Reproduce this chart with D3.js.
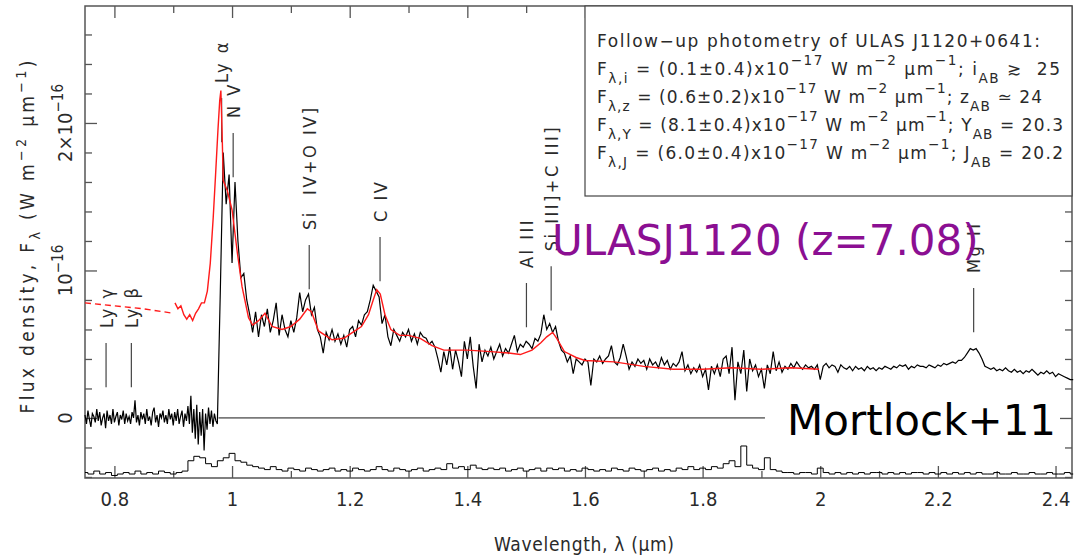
<!DOCTYPE html>
<html>
<head>
<meta charset="utf-8">
<script src="https://cdn.jsdelivr.net/npm/d3@7"></script>
<style>
  body { margin: 0; background: #fff; }
  text { font-family: "DejaVu Sans Condensed", "DejaVu Sans", sans-serif; fill: #2a2a2a; white-space: pre; }
</style>
</head>
<body>
<div id="chart"></div>
<script>
// Flux values are in units of 1e-16 W m^-2 um^-1, wavelengths in um
var width = 1074;
var height = 556;

// Axis ticks
var xTickValues = [0.8, 1, 1.2, 1.4, 1.6, 1.8, 2, 2.2, 2.4];
var xMinorTicks = [0.9, 1.1, 1.3, 1.5, 1.7, 1.9, 2.1, 2.3];
var yTickValues = [0, 1, 2];
var yTickLabels = [["0", ""], ["10", "−16"], ["2×10", "−16"]];
var yMinorTicks = [-0.4, -0.2, 0.2, 0.4, 0.6, 0.8, 1.2, 1.4, 1.6, 1.8, 2.2, 2.4, 2.6];

// Observed spectrum: blue part (below Ly alpha) on a finer grid
var blueStart = 0.75;
var blueStep = 0.0025;
var fluxBlue = [ // 0.7500 - 0.9750
  0.02, -0.04, 0.05, -0.01, -0.06, 0.03, 0.01, -0.03, 0.06, -0.02,
  0.04, -0.05, 0.00, 0.03, -0.07, 0.05, -0.02, 0.02, -0.04, 0.06,
  -0.03, 0.01, 0.04, -0.05, 0.02, -0.01, 0.05, -0.04, 0.03, -0.02,
  0.01, -0.04, 0.04, 0.00, 0.12, -0.03, 0.02, -0.05, 0.04, -0.01,
  0.03, -0.04, 0.06, -0.02, 0.01, -0.05, 0.04, 0.07, -0.03, 0.02,
  -0.06, 0.03, 0.00, 0.05, -0.03, 0.02, -0.04, 0.06, -0.01, 0.03,
  -0.05, 0.04, -0.02, 0.06, -0.04, 0.01, 0.05, -0.06, 0.03, -0.02,
  0.08, -0.04, 0.15, -0.10, 0.06, -0.14, 0.09, -0.18, 0.04, -0.12,
  0.06, -0.22, 0.03, -0.08, 0.07, -0.04, 0.05, -0.06, 0.03, -0.02,
  -0.04];

// Observed spectrum: red part
var specStart = 0.98;
var specStep = 0.005;
var fluxLya = [ // 0.980 - 1.195
  0.85, 1.80, 1.45, 1.65, 1.05, 1.60, 1.20, 0.95, 0.98, 0.80,
  0.70, 0.58, 0.72, 0.55, 0.70, 0.62, 0.74, 0.58, 0.66, 0.78,
  0.56, 0.70, 0.60, 0.55, 0.66, 0.58, 0.68, 0.85, 0.72, 0.80,
  0.84, 0.70, 0.75, 0.60, 0.55, 0.44, 0.58, 0.53, 0.60, 0.52,
  0.57, 0.50, 0.56, 0.48];
var fluxMid = [ // 1.200 - 1.595
  0.60, 0.62, 0.55, 0.66, 0.63, 0.70, 0.72, 0.80, 0.90, 0.86,
  0.82, 0.64, 0.70, 0.55, 0.49, 0.60, 0.56, 0.52, 0.58, 0.55,
  0.60, 0.52, 0.57, 0.50, 0.58, 0.55, 0.54, 0.50, 0.52, 0.48,
  0.40, 0.31, 0.45, 0.36, 0.48, 0.33, 0.46, 0.38, 0.28, 0.52,
  0.40, 0.55, 0.35, 0.20, 0.50, 0.38, 0.46, 0.42, 0.48, 0.40,
  0.45, 0.50, 0.42, 0.47, 0.44, 0.50, 0.56, 0.45, 0.50, 0.48,
  0.52, 0.50, 0.47, 0.54, 0.52, 0.57, 0.70, 0.60, 0.64, 0.58,
  0.62, 0.52, 0.46, 0.44, 0.38, 0.42, 0.30, 0.40, 0.38, 0.36];
var fluxRed = [ // 1.600 - 1.995
  0.40, 0.38, 0.22, 0.40, 0.38, 0.42, 0.37, 0.40, 0.42, 0.49,
  0.38, 0.36, 0.41, 0.50, 0.42, 0.33, 0.38, 0.35, 0.40, 0.37,
  0.39, 0.33, 0.40, 0.36, 0.38, 0.34, 0.41, 0.36, 0.39, 0.33,
  0.37, 0.35, 0.38, 0.45, 0.32, 0.36, 0.30, 0.34, 0.31, 0.36,
  0.28, 0.33, 0.19, 0.35, 0.30, 0.36, 0.28, 0.40, 0.42, 0.30,
  0.48, 0.12, 0.38, 0.30, 0.46, 0.18, 0.40, 0.32, 0.36, 0.28,
  0.33, 0.20, 0.36, 0.30, 0.45, 0.32, 0.38, 0.31, 0.35, 0.33,
  0.37, 0.34, 0.38, 0.35, 0.33, 0.36, 0.34, 0.35, 0.33, 0.36];
var fluxK = [ // 2.000 - 2.430
  0.26, 0.35, 0.37, 0.34, 0.36, 0.35, 0.31, 0.36, 0.34, 0.33,
  0.35, 0.32, 0.35, 0.33, 0.34, 0.32, 0.35, 0.33, 0.34, 0.32,
  0.34, 0.33, 0.35, 0.34, 0.33, 0.35, 0.34, 0.36, 0.35, 0.36,
  0.33, 0.35, 0.34, 0.36, 0.35, 0.35, 0.34, 0.36, 0.35, 0.34,
  0.36, 0.35, 0.37, 0.36, 0.37, 0.38, 0.37, 0.39, 0.39, 0.41,
  0.44, 0.47, 0.46, 0.47, 0.44, 0.40, 0.35, 0.34, 0.33, 0.34,
  0.32, 0.33, 0.32, 0.34, 0.32, 0.31, 0.33, 0.31, 0.32, 0.30,
  0.32, 0.31, 0.33, 0.31, 0.29, 0.31, 0.30, 0.32, 0.30, 0.31,
  0.28, 0.30, 0.29, 0.28, 0.27, 0.26, 0.26];

// Error spectrum, drawn with an offset below zero
var errStart = 0.75;
var errStep = 0.01;
var errOffset = -0.39;
var errFlux = [
  0.02, 0.01, 0.03, 0.01, 0.02, 0.00, 0.01, 0.02, 0.01, 0.03,
  0.01, 0.02, 0.01, 0.03, 0.02, 0.01, 0.02, 0.03, 0.10, 0.13,
  0.12, 0.08, 0.06, 0.10, 0.12, 0.15, 0.10, 0.09, 0.07, 0.06,
  0.05, 0.04, 0.06, 0.04, 0.03, 0.05, 0.04, 0.03, 0.05, 0.04,
  0.03, 0.04, 0.05, 0.03, 0.04, 0.03, 0.05, 0.04, 0.03, 0.04,
  0.06, 0.04, 0.03, 0.05, 0.04, 0.03, 0.04, 0.05, 0.03, 0.04,
  0.05, 0.04, 0.08, 0.05, 0.06, 0.04, 0.07, 0.05, 0.04, 0.05,
  0.04, 0.05, 0.03, 0.04, 0.05, 0.03, 0.04, 0.05, 0.03, 0.05,
  0.04, 0.05, 0.03, 0.04, 0.03, 0.05, 0.04, 0.03, 0.04, 0.03,
  0.05, 0.04, 0.03, 0.05, 0.04, 0.03, 0.04, 0.05, 0.03, 0.04,
  0.03, 0.05, 0.04, 0.06, 0.04, 0.05, 0.04, 0.06, 0.05, 0.08,
  0.10, 0.06, 0.20, 0.07, 0.05, 0.04, 0.12, 0.04, 0.03, 0.02,
  0.02, 0.01, 0.02, 0.02, 0.01, 0.05, 0.02, 0.01, 0.02, 0.01,
  0.02, 0.01, 0.02, 0.01, 0.02, 0.02, 0.01, 0.02, 0.01, 0.02,
  0.01, 0.02, 0.02, 0.01, 0.02, 0.01, 0.02, 0.01, 0.02, 0.01,
  0.02, 0.01, 0.02, 0.01, 0.01, 0.02, 0.01, 0.01, 0.02, 0.01,
  0.01, 0.02, 0.01, 0.01, 0.02, 0.01, 0.01, 0.02, 0.01];

// Composite quasar model (red)
var modelDashWave = [0.75, 0.80, 0.85, 0.90];
var modelDashFlux = [0.78, 0.76, 0.74, 0.71];
var modelWave = [
  0.903, 0.908, 0.913, 0.918, 0.923, 0.928, 0.933, 0.938, 0.943, 0.948,
  0.953, 0.958, 0.963, 0.968, 0.972, 0.976, 0.979, 0.981, 0.983, 0.985,
  0.992, 1.000, 1.009, 1.017, 1.028, 1.035, 1.045, 1.056, 1.068, 1.085,
  1.100, 1.115, 1.128, 1.135, 1.147, 1.170, 1.190, 1.205, 1.220, 1.232,
  1.240, 1.246, 1.252, 1.260, 1.270, 1.285, 1.300, 1.320, 1.340, 1.360,
  1.400, 1.440, 1.470, 1.490, 1.510, 1.525, 1.535, 1.545, 1.552, 1.565,
  1.585, 1.600, 1.650, 1.700, 1.750, 1.800, 1.850, 1.900, 1.950, 1.998];
var modelFlux = [
  0.78, 0.74, 0.76, 0.70, 0.67, 0.70, 0.66, 0.71, 0.74, 0.78,
  0.78, 0.86, 1.05, 1.36, 1.65, 1.95, 2.15, 2.22, 1.95, 1.61,
  1.54, 1.41, 1.12, 0.89, 0.68, 0.63, 0.66, 0.71, 0.62, 0.60,
  0.62, 0.67, 0.74, 0.72, 0.59, 0.53, 0.54, 0.58, 0.62, 0.70,
  0.80, 0.87, 0.84, 0.70, 0.60, 0.56, 0.56, 0.54, 0.49, 0.46,
  0.46, 0.45, 0.44, 0.43, 0.46, 0.51, 0.55, 0.58, 0.54, 0.45,
  0.41, 0.39, 0.38, 0.35, 0.33, 0.33, 0.34, 0.33, 0.34, 0.33];

// Zero level shown over the observed range
var zeroLineRange = [0.977, 1.906];

// Emission line identifications (observed wavelength)
var lineNames = ["Ly γ", "Ly β", "Ly α", "N V", "Si  IV+O IV]", "C IV", "Al III", "Si III]+C III]", "Mg II"];
var lineWaves = [0.7858, 0.8288, 0.9823, 1.0019, 1.1312, 1.2516, 1.5005, 1.5425, 2.2608];

// Photometry box text
var legendLines = [
  [["Follow−up photometry of ULAS J1120+0641:", ""]],
  [["F", ""], ["λ,i", "sub"], [" = (0.1±0.4)x10", ""], ["−17", "sup"], [" W m", ""], ["−2", "sup"], [" μm", ""], ["−1", "sup"], ["; i", ""], ["AB", "sub"], [" ≳  25", ""]],
  [["F", ""], ["λ,z", "sub"], [" = (0.6±0.2)x10", ""], ["−17", "sup"], [" W m", ""], ["−2", "sup"], [" μm", ""], ["−1", "sup"], ["; z", ""], ["AB", "sub"], [" ≃ 24", ""]],
  [["F", ""], ["λ,Y", "sub"], [" = (8.1±0.4)x10", ""], ["−17", "sup"], [" W m", ""], ["−2", "sup"], [" μm", ""], ["−1", "sup"], ["; Y", ""], ["AB", "sub"], [" = 20.3", ""]],
  [["F", ""], ["λ,J", "sub"], [" = (6.0±0.4)x10", ""], ["−17", "sup"], [" W m", ""], ["−2", "sup"], [" μm", ""], ["−1", "sup"], ["; J", ""], ["AB", "sub"], [" = 20.2", ""]]
];
var yLabelParts = [["Flux density, F", ""], ["λ", "sub"], [" (W m", ""], ["−2", "sup"], [" μm", ""], ["−1", "sup"], [")", ""]];
var xLabelText = "Wavelength, λ (μm)";
var objectLabel = "ULASJ1120 (z=7.08)";
var refLabel = "Mortlock+11";

// ---- layout (not data) ----
var markTop = [0.508, 0.508, 2.17, 1.932, 1.173, 1.227, 0.915, 1.029, 0.881]; // top of each id tick
var legendWidths = [443, 463, 445, 466, 466];

var x = d3.scaleLinear().domain([0.75, 2.428]).range([85, 1072]);
var y = d3.scaleLinear().domain([-0.407, 2.793]).range([478, 6]);

var svg = d3.select("#chart")
  .append("svg")
  .attr("width", width)
  .attr("height", height)
  .style("background", "#fff");

// add tspans with sub/superscripts
function richText(sel, parts, subShift, supShift, small) {
  parts.forEach(function(p) {
    var t = sel.append("tspan").text(p[0]);
    if (p[1] === "sub") t.style("font-size", small).style("baseline-shift", subShift + "px");
    if (p[1] === "sup") t.style("font-size", small).style("baseline-shift", supShift + "px");
  });
}

// frame
svg.append("rect")
  .attr("x", 85).attr("y", 6)
  .attr("width", 987).attr("height", 472)
  .attr("fill", "none")
  .attr("stroke", "#555")
  .attr("stroke-width", 1.5);

// inward ticks on all four sides
function tickAxis(axis, values, size, transform) {
  var g = svg.append("g")
    .attr("transform", transform)
    .call(axis.tickValues(values).tickSizeInner(-size).tickSizeOuter(0));
  g.select(".domain").remove();
  g.selectAll("line").attr("stroke", "#555").attr("stroke-width", 1.3);
  return g;
}
var xAxis = tickAxis(d3.axisBottom(x).tickFormat(d3.format("~g")).tickPadding(14), xTickValues, 12, "translate(0,478)");
xAxis.selectAll("text")
  .attr("fill", "#2a2a2a")
  .style("font-size", "20px")
  .style("font-family", '"DejaVu Sans Condensed", "DejaVu Sans", sans-serif');
tickAxis(d3.axisBottom(x).tickFormat(""), xMinorTicks, 7, "translate(0,478)");
tickAxis(d3.axisTop(x).tickFormat(""), xTickValues, 12, "translate(0,6)");
tickAxis(d3.axisTop(x).tickFormat(""), xMinorTicks, 7, "translate(0,6)");
tickAxis(d3.axisLeft(y).tickFormat(""), yTickValues, 12, "translate(85,0)");
tickAxis(d3.axisLeft(y).tickFormat(""), yMinorTicks, 7, "translate(85,0)");
tickAxis(d3.axisRight(y).tickFormat(""), yTickValues, 12, "translate(1072,0)");
tickAxis(d3.axisRight(y).tickFormat(""), yMinorTicks, 7, "translate(1072,0)");

// rotated y tick labels
yTickValues.forEach(function(v, i) {
  var t = svg.append("text")
    .attr("transform", "translate(72," + y(v) + ") rotate(-90)")
    .attr("text-anchor", "middle")
    .style("font-size", "20px");
  richText(t, [[yTickLabels[i][0], ""], [yTickLabels[i][1], "sup"]], -7, 9, "0.75em");
});

// axis titles
var yl = svg.append("text")
  .attr("transform", "translate(34,237) rotate(-90)")
  .attr("text-anchor", "middle")
  .attr("textLength", 353)
  .attr("lengthAdjust", "spacing")
  .style("font-size", "19px");
richText(yl, yLabelParts, -6, 8, "0.75em");

svg.append("text")
  .attr("x", 584).attr("y", 551)
  .attr("text-anchor", "middle")
  .attr("textLength", 180)
  .attr("lengthAdjust", "spacing")
  .style("font-size", "19px")
  .text(xLabelText);

// zero level
svg.append("line")
  .attr("x1", x(zeroLineRange[0])).attr("x2", x(zeroLineRange[1]))
  .attr("y1", y(0)).attr("y2", y(0))
  .attr("stroke", "#7a7a7a")
  .attr("stroke-width", 1.8);

// emission line id ticks
svg.selectAll(".idtick")
  .data(lineWaves)
  .enter()
  .append("line")
  .attr("class", "idtick")
  .attr("x1", function(d) { return x(d); })
  .attr("x2", function(d) { return x(d); })
  .attr("y1", function(d, i) { return y(markTop[i]); })
  .attr("y2", function(d, i) { return y(markTop[i] - 0.3); })
  .attr("stroke", "#444")
  .attr("stroke-width", 1.2);

// spectra
var spectrum = fluxBlue.map(function(f, i) {
  return { w: blueStart + i * blueStep, f: f };
}).concat(fluxLya.concat(fluxMid, fluxRed, fluxK).map(function(f, i) {
  return { w: specStart + i * specStep, f: f };
}));
var errSpec = errFlux.map(function(e, i) {
  return { w: errStart + i * errStep, f: errOffset + e };
});
var specLine = d3.line()
  .x(function(d) { return x(d.w); })
  .y(function(d) { return y(d.f); });
var stepLine = d3.line()
  .x(function(d) { return x(d.w); })
  .y(function(d) { return y(d.f); })
  .curve(d3.curveStep);

svg.append("path")
  .datum(errSpec)
  .attr("d", stepLine)
  .attr("fill", "none")
  .attr("stroke", "#000")
  .attr("stroke-width", 1);

svg.append("path")
  .datum(spectrum)
  .attr("d", specLine)
  .attr("fill", "none")
  .attr("stroke", "#000")
  .attr("stroke-width", 1.2);

svg.append("path")
  .datum(modelDashWave.map(function(w, i) { return { w: w, f: modelDashFlux[i] }; }))
  .attr("d", specLine)
  .attr("fill", "none")
  .attr("stroke", "#ff1a1a")
  .attr("stroke-width", 1.4)
  .attr("stroke-dasharray", "6,4");

svg.append("path")
  .datum(modelWave.map(function(w, i) { return { w: w, f: modelFlux[i] }; }))
  .attr("d", specLine)
  .attr("fill", "none")
  .attr("stroke", "#ff1a1a")
  .attr("stroke-width", 1.4);

// emission line names
svg.selectAll(".idlabel")
  .data(lineNames)
  .enter()
  .append("text")
  .attr("class", "idlabel")
  .attr("transform", function(d, i) {
    return "translate(" + (x(lineWaves[i]) + 6.5) + "," + (y(markTop[i]) - 15) + ") rotate(-90)";
  })
  .style("font-size", "18px")
  .style("letter-spacing", "2.5px")
  .text(function(d) { return d; });

// photometry box
svg.append("rect")
  .attr("x", 585).attr("y", 6)
  .attr("width", 487).attr("height", 190)
  .attr("fill", "#fff")
  .attr("stroke", "#444")
  .attr("stroke-width", 1.2);

legendLines.forEach(function(parts, i) {
  var t = svg.append("text")
    .attr("x", 597)
    .attr("y", 47 + i * 28)
    .attr("textLength", legendWidths[i])
    .attr("lengthAdjust", "spacing")
    .style("font-family", '"DejaVu Sans", sans-serif')
    .style("font-size", "17px");
  richText(t, parts, -8, 10, "0.8em");
});

// big annotations
svg.append("text")
  .attr("x", 552).attr("y", 255)
  .style("font-family", '"DejaVu Sans", sans-serif')
  .style("font-size", "42px")
  .style("fill", "#8b0f92")
  .text(objectLabel);

svg.append("text")
  .attr("x", 787).attr("y", 435)
  .style("font-family", '"DejaVu Sans", sans-serif')
  .style("font-size", "42px")
  .style("fill", "#000")
  .text(refLabel);
</script>
</body>
</html>
